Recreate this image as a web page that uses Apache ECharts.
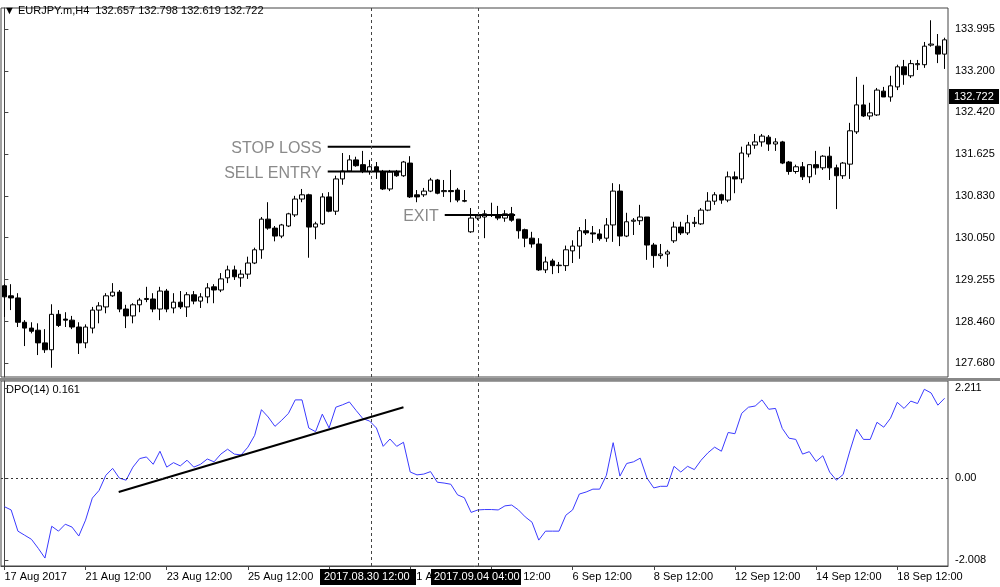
<!DOCTYPE html>
<html><head><meta charset="utf-8">
<script src="https://cdn.jsdelivr.net/npm/echarts@6/dist/echarts.min.js"></script>
<style>html,body{margin:0;padding:0;background:#fff}#c{width:1000px;height:587px}</style>
</head><body><div id="c"></div>
<script>
// candles: [open, close, low, high]
const candles = [
[129.14,128.93,128.55,129.17],[128.95,128.91,128.68,129.17],[128.91,128.45,128.36,129.00],[128.45,128.34,128.00,128.49],
[128.34,128.28,128.24,128.45],[128.30,128.06,127.83,128.43],[128.06,127.93,127.87,128.32],[127.93,128.60,127.59,128.79],
[128.60,128.39,128.36,128.68],[128.51,128.49,128.36,128.64],[128.49,128.36,128.32,128.57],[128.36,128.06,127.85,128.45],
[128.06,128.36,127.96,128.41],[128.34,128.68,128.24,128.74],[128.68,128.76,128.43,128.83],[128.74,128.95,128.62,129.00],
[128.95,129.02,128.93,129.19],[129.02,128.70,128.64,129.06],[128.70,128.57,128.34,128.78],[128.57,128.78,128.43,128.81],
[128.78,128.87,128.64,128.91],[128.88,128.90,128.83,129.12],[128.89,128.70,128.64,129.00],[128.70,129.04,128.49,129.12],
[129.04,128.70,128.64,129.08],[128.72,128.83,128.62,129.00],[128.83,128.74,128.70,129.04],[128.74,128.97,128.55,129.02],
[128.97,128.85,128.79,129.04],[128.85,128.93,128.72,129.00],[128.93,129.10,128.81,129.19],[129.12,129.06,128.81,129.17],
[129.06,129.27,129.02,129.38],[129.29,129.44,129.19,129.52],[129.44,129.31,129.25,129.52],[129.29,129.36,129.12,129.44],
[129.36,129.57,129.27,129.69],[129.57,129.82,129.55,129.86],[129.82,130.40,129.65,130.44],[130.40,130.23,130.20,130.72],
[130.23,130.08,129.98,130.27],[130.08,130.29,130.04,130.31],[130.27,130.50,130.25,130.52],[130.48,130.78,130.44,130.84],
[130.78,130.86,130.72,130.97],[130.86,130.25,129.67,130.88],[130.25,130.31,130.02,130.35],[130.31,130.82,130.29,130.89],
[130.82,130.55,130.53,130.91],[130.55,131.16,130.48,131.22],[131.16,131.31,131.05,131.65],[131.31,131.52,131.29,131.61],
[131.52,131.41,131.39,131.58],[131.43,131.30,131.27,131.69],[131.30,131.39,131.24,131.52],[131.39,131.30,131.16,131.48],
[131.30,130.97,130.95,131.33],[130.97,131.29,130.93,131.33],[131.30,131.22,131.20,131.33],[131.22,131.48,131.20,131.50],
[131.46,130.82,130.80,131.59],[130.86,130.82,130.72,130.95],[130.86,130.93,130.82,130.99],[130.93,131.14,130.91,131.18],
[131.14,130.89,130.87,131.16],[130.92,130.94,130.82,131.14],[130.94,130.92,130.72,131.33],[130.95,130.76,130.72,130.99],
[130.75,130.74,130.72,130.95],[130.16,130.42,130.14,130.61],[130.42,130.46,130.38,130.48],[130.44,130.50,130.04,130.57],
[130.48,130.48,130.44,130.71],[130.48,130.42,130.38,130.65],[130.42,130.50,130.35,130.57],[130.50,130.38,130.35,130.63],
[130.40,130.18,130.03,130.40],[130.20,130.04,129.87,130.22],[130.04,129.93,129.86,130.16],[129.93,129.44,129.42,130.04],
[129.44,129.59,129.38,129.69],[129.61,129.52,129.36,129.65],[129.52,129.53,129.38,129.59],[129.52,129.82,129.42,129.90],
[129.80,129.89,129.57,130.00],[129.89,130.18,129.65,130.25],[130.18,130.14,130.10,130.40],[130.14,130.12,129.95,130.27],
[130.12,130.03,129.99,130.21],[130.04,130.29,129.97,130.42],[130.29,130.93,129.97,131.08],[130.93,130.08,129.89,131.06],
[130.08,130.35,130.06,130.52],[130.36,130.38,130.10,130.42],[130.37,130.44,130.29,130.67],[130.44,129.91,129.63,130.44],
[129.91,129.71,129.48,129.95],[129.71,129.74,129.65,129.93],[129.74,129.78,129.50,129.82],[129.99,130.25,129.95,130.35],
[130.25,130.14,130.10,130.35],[130.14,130.33,130.10,130.48],[130.32,130.34,130.25,130.44],[130.31,130.57,130.29,130.61],
[130.57,130.74,130.55,130.91],[130.74,130.86,130.67,130.91],[130.86,130.76,130.69,130.88],[130.76,131.20,130.72,131.30],
[131.20,131.16,130.89,131.30],[131.16,131.65,131.08,131.77],[131.63,131.80,131.57,131.86],[131.80,131.86,131.73,132.01],
[131.86,131.97,131.77,132.01],[131.95,131.82,131.69,131.99],[131.82,131.86,131.69,131.93],[131.86,131.46,131.44,131.88],
[131.48,131.30,131.24,131.50],[131.30,131.39,131.26,131.43],[131.39,131.20,131.14,131.48],[131.20,131.43,131.08,131.43],
[131.43,131.37,131.24,131.69],[131.37,131.59,131.33,131.61],[131.59,131.37,131.14,131.77],[131.37,131.22,130.59,131.43],
[131.22,131.46,131.16,131.48],[131.44,132.07,131.16,132.22],[132.05,132.56,132.01,133.09],[132.56,132.35,132.33,132.94],
[132.35,132.41,132.28,132.60],[132.37,132.84,132.35,132.88],[132.82,132.71,132.71,132.90],[132.71,132.92,132.62,133.11],
[132.90,133.28,132.84,133.32],[133.28,133.13,132.94,133.41],[133.11,133.34,133.07,133.41],[133.32,133.34,133.22,133.41],
[133.32,133.67,133.26,133.75],[133.69,133.71,133.66,134.16],[133.67,133.52,133.35,133.90],[133.52,133.79,133.24,133.83]
];
const dpo = [-0.70,-0.78,-1.30,-1.40,-1.50,-1.72,-1.96,-1.18,-1.30,-1.13,-1.20,-1.42,-1.03,-0.49,-0.30,0.07,0.24,0.00,-0.05,0.27,
0.48,0.52,0.34,0.66,0.27,0.38,0.30,0.44,0.27,0.34,0.47,0.40,0.59,0.71,0.59,0.57,0.76,1.05,1.68,1.50,
1.27,1.42,1.59,1.92,1.92,1.23,1.14,1.57,1.23,1.74,1.80,1.87,1.66,1.46,1.40,1.23,0.78,0.96,0.78,0.88,
0.15,0.08,0.10,0.16,-0.10,-0.12,-0.15,-0.41,-0.48,-0.84,-0.78,-0.77,-0.77,-0.78,-0.68,-0.66,-0.78,-0.95,-1.08,-1.52,
-1.30,-1.30,-1.30,-0.91,-0.78,-0.39,-0.34,-0.27,-0.27,0.07,0.87,0.05,0.36,0.40,0.49,0.00,-0.24,-0.20,-0.20,0.29,
0.15,0.29,0.21,0.44,0.62,0.76,0.66,1.12,1.09,1.59,1.74,1.77,1.92,1.69,1.71,1.22,0.98,0.95,0.59,0.65,
0.41,0.55,0.15,-0.05,0.09,0.67,1.20,0.95,0.95,1.37,1.25,1.47,1.86,1.71,1.89,1.83,2.18,2.09,1.79,1.96];
const dateLabels = {0:'17 Aug 2017',12:'21 Aug 12:00',24:'23 Aug 12:00',36:'25 Aug 12:00',48:'29 Aug 12:00',60:'31 Aug 12:00',
  72:'4 Sep 12:00',84:'6 Sep 12:00',96:'8 Sep 12:00',108:'12 Sep 12:00',120:'14 Sep 12:00',132:'18 Sep 12:00'};
const priceTicks = [133.995,133.200,132.420,131.625,130.830,130.050,129.255,128.460,127.680];
const dpoTicks = [2.211,0,-2.008];
const stopLoss = 131.77, sellEntry = 131.30, exitLvl = 130.48;
const trendStart = [16.9,-0.34], trendEnd = [59.0,1.74];
const crossA = 54.2, crossB = 70.0;
const lastPrice = '132.722';

const cats = candles.map((_, i) => i);
const F = 'Liberation Sans';
const FS = 11;
const chart = echarts.init(document.getElementById('c'));
const vx = (g) => ({type:'value', gridIndex:g, min:-0.5, max:139.5, show:false});
const dash = {type:[3,3], color:'#444', width:1};
function annot(label, y, x0, x1) {
  return {type:'line', xAxisIndex:1, yAxisIndex:0, symbol:'circle', symbolSize:0.01, showSymbol:true, silent:true,
    lineStyle:{color:'#000', width:2}, itemStyle:{color:'#000'},
    label:{show:false},
    data:[{value:[x0,y], label:{show:true, position:'left', distance:6, offset:[0,2], formatter:label, color:'#8a8a8a', fontSize:16, fontFamily:'Liberation Sans'}},
          {value:[x1,y]}]};
}
chart.setOption({
  animation:false,
  grid:[{left:1,right:52,top:8,height:369,show:true,borderColor:'#444',borderWidth:1},
        {left:1,right:52,top:381,height:185,show:true,borderColor:'#444',borderWidth:1}],
  xAxis:[
    {type:'category', gridIndex:0, data:cats, show:false},
    vx(0),
    {type:'category', gridIndex:1, data:cats, axisLine:{onZero:false, lineStyle:{color:'#444'}},
      axisTick:{show:true, alignWithLabel:true, length:4, interval:(i)=>dateLabels[i]!==undefined, lineStyle:{color:'#444'}},
      axisLabel:{interval:(i)=>dateLabels[i]!==undefined, formatter:(v,i)=>dateLabels[i]||'', align:'left', margin:5, color:'#000', fontSize:FS, fontFamily:F}},
    vx(1)
  ],
  yAxis:[
    {type:'value', gridIndex:0, position:'right', min:127.415, max:134.392, splitLine:{show:false},
      axisLine:{show:true,lineStyle:{color:'#444'}}, axisTick:{show:true, length:4, customValues:priceTicks},
      axisLabel:{customValues:priceTicks, formatter:(v)=>v.toFixed(3), color:'#000', fontSize:FS, fontFamily:F, margin:7}},
    {type:'value', gridIndex:1, position:'right', min:-2.155, max:2.383, splitLine:{show:false},
      axisLine:{show:true,lineStyle:{color:'#444'}}, axisTick:{show:true, length:4, customValues:dpoTicks},
      axisLabel:{customValues:dpoTicks, formatter:(v)=>v===0?'0.00':v.toFixed(3), color:'#000', fontSize:FS, fontFamily:F, margin:7}}
  ],
  series:[
    {type:'candlestick', xAxisIndex:0, yAxisIndex:0, data:candles, barWidth:5,
      itemStyle:{color:'#fff', color0:'#000', borderColor:'#000', borderColor0:'#000', borderWidth:1}},
    annot('STOP LOSS', stopLoss, 47.8, 60.0),
    annot('SELL ENTRY', sellEntry, 47.8, 58.6),
    annot('EXIT', exitLvl, 65.1, 75.5),
    {type:'line', xAxisIndex:1, yAxisIndex:0, data:[], markLine:{symbol:'none', silent:true, label:{show:false}, lineStyle:dash,
      data:[{xAxis:crossA},{xAxis:crossB}]}},
    {type:'line', xAxisIndex:2, yAxisIndex:1, data:dpo, symbol:'none', lineStyle:{color:'#3a3aff', width:1}},
    {type:'line', xAxisIndex:3, yAxisIndex:1, data:[trendStart, trendEnd], symbol:'none', lineStyle:{color:'#000', width:2},
      markLine:{symbol:'none', silent:true, label:{show:false}, lineStyle:dash,
        data:[{xAxis:crossA},{xAxis:crossB},{yAxis:0, lineStyle:{type:[2,3], color:'#333', width:1}}]}}
  ],
  graphic:[
    {type:'rect', left:0, top:378, shape:{width:1000, height:3}, style:{fill:'#888'}},
    {type:'text', left:4, top:5, style:{text:'▼ EURJPY.m,H4  132.657 132.798 132.619 132.722', fontSize:FS, fontFamily:F, fill:'#000'}},
    {type:'text', left:6, top:384, style:{text:'DPO(14) 0.161', fontSize:FS, fontFamily:F, fill:'#000'}},
    {type:'rect', left:949, top:89, shape:{width:50, height:15}, style:{fill:'#000'}},
    {type:'text', left:954, top:91, style:{text:lastPrice, fontSize:FS, fontFamily:F, fill:'#fff'}},
    {type:'rect', left:320, top:569, shape:{width:96, height:16}, style:{fill:'#000'}, z:100},
    {type:'text', left:324, top:571, style:{text:'2017.08.30 12:00', fontSize:FS, fontFamily:F, fill:'#fff'}, z:101},
    {type:'rect', left:431, top:569, shape:{width:90, height:16}, style:{fill:'#000'}, z:100},
    {type:'text', left:434, top:571, style:{text:'2017.09.04 04:00', fontSize:FS, fontFamily:F, fill:'#fff'}, z:101}
  ]
});
</script></body></html>
